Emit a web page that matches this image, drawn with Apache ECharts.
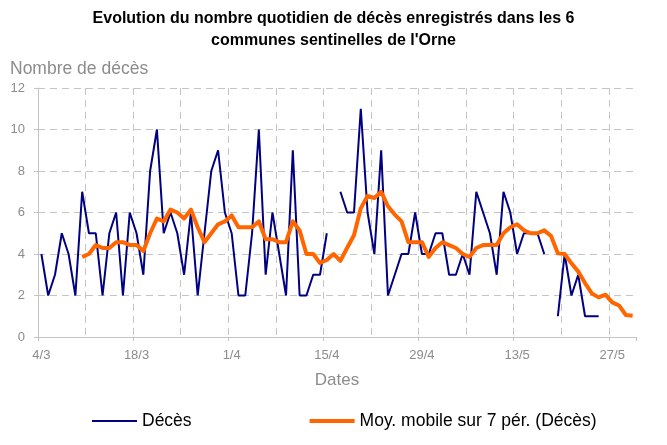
<!DOCTYPE html>
<html>
<head>
<meta charset="utf-8">
<script src="https://cdn.jsdelivr.net/npm/echarts@6/dist/echarts.min.js"></script>
<style>
  html, body { margin: 0; padding: 0; background: #fff; }
  #chart { width: 667px; height: 445px; }
</style>
</head>
<body>
<div id="chart"></div>
<script>
var chart = echarts.init(document.getElementById('chart'));

// dates du 4/3 au 30/5
var dates = [
  '4/3','5/3','6/3','7/3','8/3','9/3','10/3','11/3','12/3','13/3','14/3','15/3','16/3','17/3',
  '18/3','19/3','20/3','21/3','22/3','23/3','24/3','25/3','26/3','27/3','28/3','29/3','30/3','31/3',
  '1/4','2/4','3/4','4/4','5/4','6/4','7/4','8/4','9/4','10/4','11/4','12/4','13/4','14/4',
  '15/4','16/4','17/4','18/4','19/4','20/4','21/4','22/4','23/4','24/4','25/4','26/4','27/4','28/4',
  '29/4','30/4','1/5','2/5','3/5','4/5','5/5','6/5','7/5','8/5','9/5','10/5','11/5','12/5',
  '13/5','14/5','15/5','16/5','17/5','18/5','19/5','20/5','21/5','22/5','23/5','24/5','25/5','26/5',
  '27/5','28/5','29/5','30/5'
];

// nombre de décès par jour (null = pas de valeur)
var deces = [
  4, 2, 3, 5, 4, 2, 7, 5, 5, 2, 5, 6, 2, 6,
  5, 3, 8, 10, 5, 6, 5, 3, 6, 2, 5, 8, 9, 6,
  5, 2, 2, 5, 10, 3, 6, 4, 2, 9, 2, 2, 3, 3,
  5, null, 7, 6, 6, 11, 6, 4, 9, 2, 3, 4, 4, 6,
  4, 4, 5, 5, 3, 3, 4, 3, 7, 6, 5, 3, 7, 6,
  4, 5, 5, 5, 4, null, 1, 4, 2, 3, 1, 1, 1, null,
  null, null, null, null
];

// moyenne mobile sur 7 périodes
var moyMobile = [
  null, null, null, null, null, null, 3.86, 4.0, 4.43, 4.29, 4.29, 4.57, 4.57, 4.43,
  4.43, 4.14, 5.0, 5.71, 5.57, 6.14, 6.0, 5.71, 6.14, 5.29, 4.57, 5.0, 5.43, 5.57,
  5.86, 5.29, 5.29, 5.29, 5.57, 4.71, 4.71, 4.57, 4.57, 5.57, 5.14, 4.0, 4.0, 3.57,
  3.71, 4.0, 3.67, 4.3, 4.9, 6.2, 6.8, 6.7, 7.0, 6.3, 5.9, 5.57, 4.57, 4.57,
  4.57, 3.86, 4.29, 4.57, 4.43, 4.29, 4.0, 3.86, 4.29, 4.43, 4.43, 4.43, 5.0, 5.29,
  5.43, 5.14, 5.0, 5.0, 5.14, 4.87, 4.03, 4.0, 3.55, 3.15, 2.6, 2.1, 1.91, 2.04,
  1.67, 1.52, 1.06, 1.02
];

var gris = '#8c8c8c';
var grille = '#c4c4c4';
var police = "'Liberation Sans', Arial, sans-serif";

var option = {
  animation: false,
  title: {
    text: "Evolution du nombre quotidien de décès enregistrés dans les 6\ncommunes sentinelles de l'Orne",
    left: 'center',
    top: 3,
    textStyle: {
      fontFamily: police,
      fontSize: 16,
      fontWeight: 'bold',
      color: '#000',
      lineHeight: 22
    }
  },
  legend: {
    left: 87,
    top: 407,
    itemWidth: 45,
    itemHeight: 14,
    itemGap: 118,
    textStyle: { fontFamily: police, fontSize: 17.5, color: '#000' },
    data: [
      { name: 'Décès', icon: 'path://M0,0h45v2h-45z' },
      { name: 'Moy. mobile sur 7 pér. (Décès)', icon: 'path://M0,0h45v4h-45z' }
    ]
  },
  grid: {
    left: 38,
    right: 31,
    top: 88,
    bottom: 108
  },
  xAxis: {
    type: 'category',
    data: dates,
    boundaryGap: true,
    name: 'Dates',
    nameLocation: 'middle',
    nameGap: 35,
    nameTextStyle: { fontFamily: police, fontSize: 17, color: gris },
    axisLine: { lineStyle: { color: grille } },
    axisTick: { show: true, interval: 13, length: 4, lineStyle: { color: grille } },
    axisLabel: { interval: 13, margin: 12, fontFamily: police, fontSize: 13, color: gris },
    splitLine: {
      show: true,
      interval: 6,
      showMaxLine: false,
      lineStyle: { color: grille, type: [7, 5], width: 1 }
    }
  },
  yAxis: {
    type: 'value',
    min: 0,
    max: 12,
    interval: 2,
    name: 'Nombre de décès',
    nameLocation: 'end',
    nameGap: 10,
    nameTextStyle: { fontFamily: police, fontSize: 17.5, color: gris, align: 'left', padding: [0, 0, 0, -28] },
    axisLine: { show: true, lineStyle: { color: grille } },
    axisTick: { show: true, length: 4, lineStyle: { color: grille } },
    axisLabel: { margin: 13, fontFamily: police, fontSize: 13, color: gris },
    splitLine: { lineStyle: { color: grille, type: [7, 5], width: 1 } }
  },
  series: [
    {
      name: 'Décès',
      type: 'line',
      data: deces,
      symbol: 'none',
      connectNulls: false,
      lineStyle: { color: '#000080', width: 2 },
      itemStyle: { color: '#000080' }
    },
    {
      name: 'Moy. mobile sur 7 pér. (Décès)',
      type: 'line',
      data: moyMobile,
      symbol: 'none',
      lineStyle: { color: '#ff6600', width: 4, join: 'round' },
      itemStyle: { color: '#ff6600' }
    }
  ]
};

chart.setOption(option);
</script>
</body>
</html>
